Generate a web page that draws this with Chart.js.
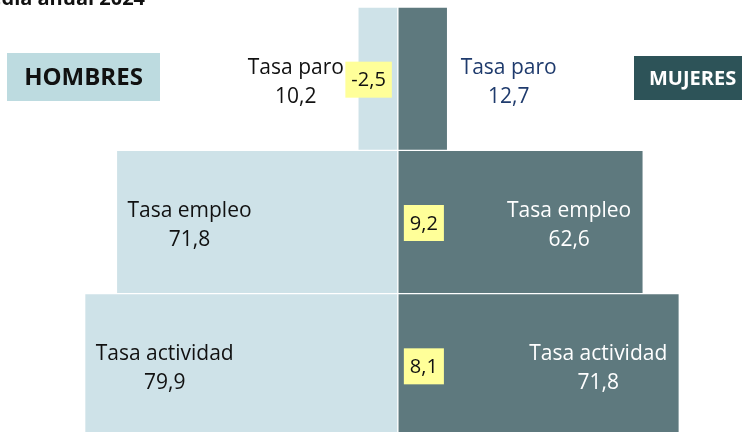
<!DOCTYPE html>
<html>
<head>
<meta charset="utf-8">
<script src="https://cdn.jsdelivr.net/npm/chart.js@4.4.1/dist/chart.umd.min.js"></script>
<style>
  html, body { margin: 0; padding: 0; background: #fff; overflow: hidden; }
  #wrap { width: 742px; height: 440px; }
</style>
</head>
<body>
<div id="wrap"><canvas id="chart"></canvas></div>
<script>
// Media anual 2024 - tasas por sexo
const categories = ['Tasa paro', 'Tasa empleo', 'Tasa actividad'];
const hombres = [10.2, 71.8, 79.9];
const mujeres = [12.7, 62.6, 71.8];
const brecha = [-2.5, 9.2, 8.1];
const titulo = 'Media anual 2024';

const LIGHT = '#cee2e8';
const DARK = '#5e797e';
const FONT = '"Open Sans", "DejaVu Sans", sans-serif';

const fmt = v => v.toFixed(1).replace('.', ',');

const labelsPlugin = {
  id: 'pyramidLabels',
  afterDatasetsDraw(chart) {
    const ctx = chart.ctx;
    const y = chart.scales.y;
    const menBars = chart.getDatasetMeta(0).data;
    const womenBars = chart.getDatasetMeta(1).data;
    ctx.save();

    categories.forEach((cat, i) => {
      const yc = y.getPixelForValue(i);
      const tY = yc - 5, vY = yc + 24;
      ctx.font = '21px ' + FONT;
      ctx.textBaseline = 'alphabetic';
      ctx.textAlign = 'center';

      // hombres (left)
      const m = menBars[i];
      const mLeft = Math.min(m.x, m.base);
      const mW = Math.abs(m.base - m.x);
      const wT = ctx.measureText(cat).width;
      let cx;
      if (mW < 100) {
        cx = mLeft - 14 - wT / 2;
      } else {
        cx = mLeft + 11 + wT / 2;
      }
      ctx.fillStyle = '#111';
      ctx.fillText(cat, cx, tY);
      ctx.fillText(fmt(hombres[i]), cx, vY);

      // mujeres (right)
      const w = womenBars[i];
      const wRight = Math.max(w.x, w.base);
      const wW = Math.abs(w.x - w.base);
      if (wW < 100) {
        cx = wRight + 13 + wT / 2;
        ctx.fillStyle = '#1f3b6d';
      } else {
        cx = wRight - 12 - wT / 2;
        ctx.fillStyle = '#ffffff';
      }
      ctx.fillText(cat, cx, tY);
      ctx.fillText(fmt(mujeres[i]), cx, vY);

      // brecha (yellow box)
      ctx.font = '20px ' + FONT;
      const center = m.base;
      const txt = fmt(brecha[i]);
      const bw = ctx.measureText(txt).width + 12;
      const bh = 36;
      const bx = brecha[i] < 0 ? center - 6 - bw : center + 6;
      const by = yc - bh / 2 + 1;
      ctx.fillStyle = '#ffff99';
      ctx.fillRect(bx, by, bw, bh);
      ctx.fillStyle = '#111';
      ctx.textBaseline = 'middle';
      ctx.fillText(txt, bx + bw / 2, by + bh / 2 + 1);
    });

    // HOMBRES / MUJERES tags
    ctx.fillStyle = '#bddbe0';
    ctx.fillRect(7, 53, 153, 48);
    ctx.fillStyle = '#111';
    ctx.font = 'bold 24px ' + FONT;
    ctx.textAlign = 'center';
    ctx.textBaseline = 'middle';
    ctx.fillText('HOMBRES', 83.5, 78);

    ctx.fillStyle = '#2d5358';
    ctx.fillRect(634, 56, 120, 44);
    ctx.fillStyle = '#ffffff';
    ctx.font = 'bold 20px ' + FONT;
    ctx.textAlign = 'left';
    ctx.textBaseline = 'alphabetic';
    ctx.fillText('MUJERES', 649, 85);

    // cropped title
    ctx.fillStyle = '#111';
    ctx.font = 'bold 20px ' + FONT;
    ctx.textAlign = 'right';
    ctx.fillText(titulo, 145, 5);

    ctx.restore();
  }
};

new Chart(document.getElementById('chart'), {
  type: 'bar',
  data: {
    labels: categories,
    datasets: [
      {
        label: 'HOMBRES',
        data: hombres.map(v => -v),
        backgroundColor: LIGHT,
        borderColor: '#ffffff',
        borderWidth: 1,
        borderSkipped: false
      },
      {
        label: 'MUJERES',
        data: mujeres,
        backgroundColor: DARK,
        borderColor: '#ffffff',
        borderWidth: 1,
        borderSkipped: false
      }
    ]
  },
  options: {
    indexAxis: 'y',
    responsive: true,
    maintainAspectRatio: false,
    animation: false,
    layout: { padding: { top: 7, bottom: 3, left: 0, right: 0 } },
    datasets: { bar: { barPercentage: 1, categoryPercentage: 1 } },
    scales: {
      x: { stacked: true, display: false, min: -101.5, max: 87.8 },
      y: { stacked: true, display: false }
    },
    plugins: {
      legend: { display: false },
      tooltip: { enabled: false }
    }
  },
  plugins: [labelsPlugin]
});
</script>
</body>
</html>
